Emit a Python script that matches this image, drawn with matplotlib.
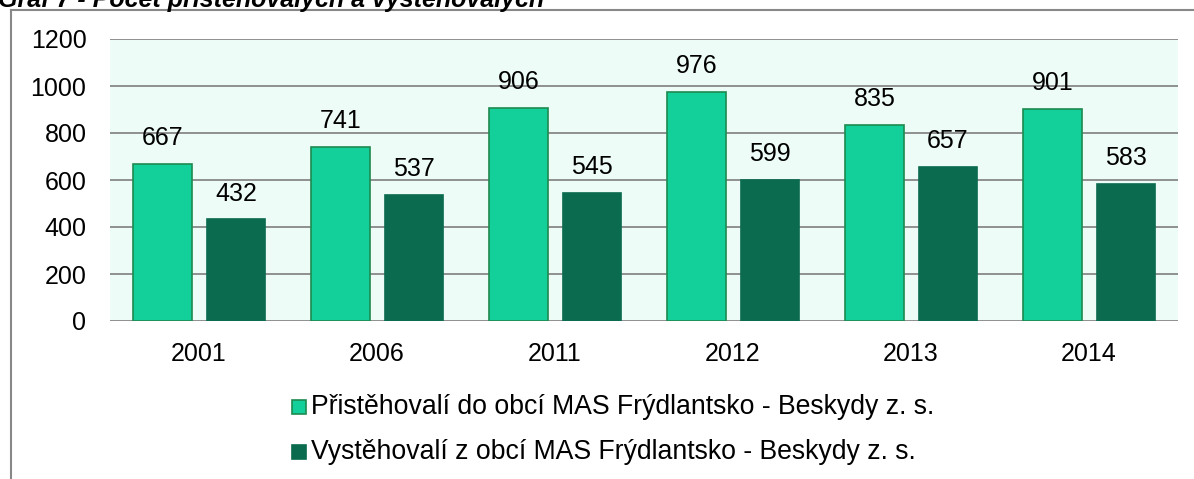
import matplotlib.pyplot as plt
import numpy as np

plt.rcParams['font.family'] = ['Liberation Sans', 'DejaVu Sans']

years = ['2001', '2006', '2011', '2012', '2013', '2014']
prist = [667, 741, 906, 976, 835, 901]
vyst = [432, 537, 545, 599, 657, 583]
labels = ['Přistěhovalí do obcí MAS Frýdlantsko - Beskydy z. s.',
          'Vystěhovalí z obcí MAS Frýdlantsko - Beskydy z. s.']
light, light_edge, dark = '#13d09a', '#1e8a50', '#0a6b4e'

W, H = 1194, 479
fig = plt.figure(figsize=(W/100, H/100), dpi=100)
ax = fig.add_axes([110/W, 1-321/H, (1178-110)/W, (321-39)/H])
ax.set_facecolor('#edfcf7')

x = np.arange(len(years))
w = 0.33
b1 = ax.bar(x - 0.206, prist, w, color=light, edgecolor=light_edge, linewidth=1.2, zorder=3)
b2 = ax.bar(x + 0.208, vyst, w, color=dark, edgecolor=dark, linewidth=1.2, zorder=3)

for bars, vals in [(b1, prist), (b2, vyst)]:
    for r, v in zip(bars, vals):
        ax.text(r.get_x() + r.get_width()/2, v + 110, str(v), ha='center', va='center',
                fontsize=18, zorder=4)

ax.set_xlim(-0.5, 5.5)
ax.set_ylim(0, 1200)
ax.set_yticks(range(0, 1201, 200))
ax.set_xticks(x)
ax.set_xticklabels(years)
ax.tick_params(length=0, labelsize=18)
ax.tick_params(axis='y', pad=17)
ax.tick_params(axis='x', pad=15)
ax.grid(axis='y', color='#888888', linewidth=1.3, zorder=1)
for s in ax.spines.values():
    s.set_visible(False)

# legend, drawn by hand so the squares sit where the reference has them
for i, (lab, fc, ec) in enumerate(zip(labels, [light, dark], [light_edge, dark])):
    yc = 407 + 45*i
    fig.add_artist(plt.Rectangle((292/W, 1-(yc+7)/H), 14/W, 14/H, facecolor=fc,
                                 edgecolor=ec, linewidth=1.2))
    fig.text(311/W, 1-yc/H, lab, fontsize=19.2, va='center', ha='left')

# outer frame of the document chart
fig.add_artist(plt.Line2D([11/W, 11/W], [0, 1-10/H], color='#888888', linewidth=1.5))
fig.add_artist(plt.Line2D([11/W, 1], [1-10/H, 1-10/H], color='#888888', linewidth=1.5))
fig.text(-2/W, 1-7/H, 'Graf 7 - Počet přistěhovalých a vystěhovalých', fontsize=18,
         fontweight='bold', fontstyle='italic', va='baseline', ha='left')

fig.savefig('out.png', dpi=100)
